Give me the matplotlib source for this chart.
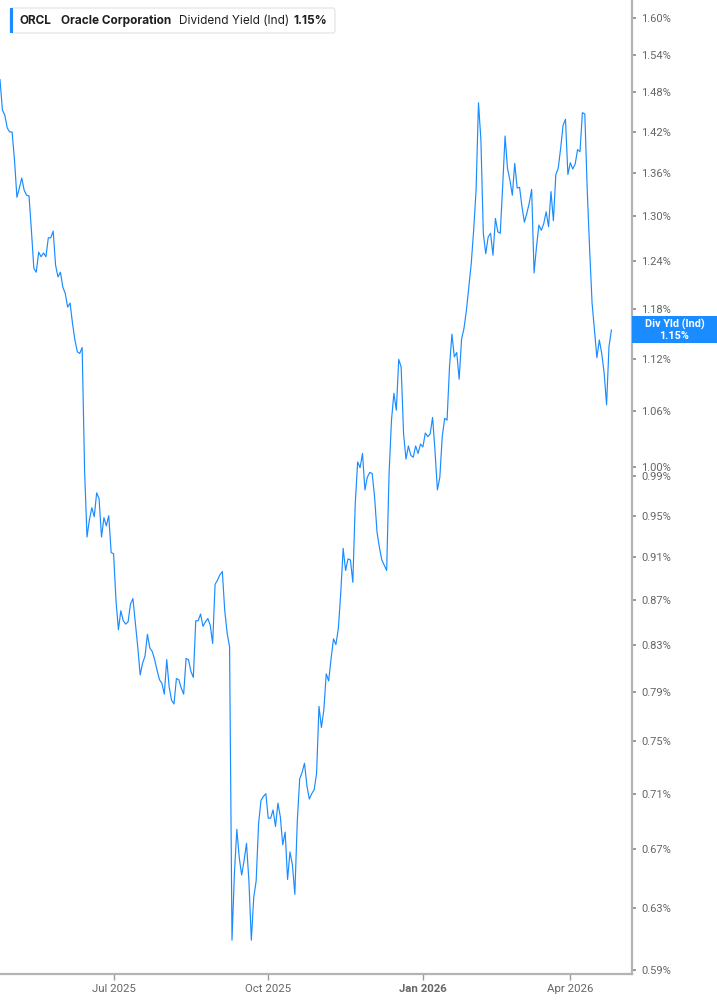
import matplotlib.pyplot as plt
import matplotlib.ticker as mticker
import numpy as np
import pandas as pd
from matplotlib.patches import Rectangle, FancyBboxPatch

# ORCL indicated dividend yield, one value per trading day (percent)
yield_pct = [
    1.500, 1.453, 1.445, 1.426, 1.420, 1.420, 1.379, 1.326, 1.339, 1.353,
    1.336, 1.329, 1.328, 1.281, 1.231, 1.226, 1.252, 1.246, 1.251, 1.246,
    1.271, 1.271, 1.280, 1.235, 1.220, 1.226, 1.207, 1.199, 1.182, 1.187,
    1.162, 1.142, 1.128, 1.126, 1.133, 0.996, 0.929, 0.946, 0.958, 0.949,
    0.973, 0.967, 0.929, 0.948, 0.940, 0.950, 0.914, 0.913, 0.869, 0.843,
    0.860, 0.851, 0.848, 0.850, 0.866, 0.871, 0.849, 0.828, 0.804, 0.814,
    0.820, 0.839, 0.827, 0.824, 0.817, 0.808, 0.800, 0.797, 0.788, 0.817,
    0.794, 0.783, 0.780, 0.801, 0.800, 0.793, 0.788, 0.818, 0.817, 0.807,
    0.802, 0.851, 0.851, 0.857, 0.846, 0.850, 0.853, 0.847, 0.831, 0.884,
    0.888, 0.893, 0.896, 0.860, 0.840, 0.828, 0.609, 0.653, 0.684, 0.664,
    0.652, 0.662, 0.674, 0.648, 0.609, 0.637, 0.648, 0.688, 0.705, 0.708,
    0.710, 0.692, 0.692, 0.698, 0.686, 0.703, 0.693, 0.673, 0.682, 0.649,
    0.668, 0.659, 0.639, 0.689, 0.721, 0.726, 0.733, 0.716, 0.706, 0.710,
    0.713, 0.725, 0.778, 0.761, 0.775, 0.805, 0.799, 0.818, 0.835, 0.830,
    0.844, 0.876, 0.918, 0.897, 0.908, 0.907, 0.886, 0.962, 1.005, 0.999,
    1.014, 0.976, 0.989, 0.994, 0.993, 0.969, 0.934, 0.919, 0.907, 0.902,
    0.897, 0.993, 1.050, 1.080, 1.061, 1.119, 1.110, 1.035, 1.008, 1.022,
    1.012, 1.010, 1.022, 1.014, 1.024, 1.021, 1.036, 1.032, 1.035, 1.053,
    1.017, 0.976, 0.989, 1.032, 1.052, 1.050, 1.110, 1.149, 1.122, 1.127,
    1.096, 1.143, 1.156, 1.178, 1.207, 1.237, 1.281, 1.336, 1.464, 1.408,
    1.277, 1.250, 1.272, 1.277, 1.248, 1.297, 1.279, 1.277, 1.341, 1.414,
    1.367, 1.350, 1.329, 1.374, 1.339, 1.340, 1.313, 1.292, 1.304, 1.318,
    1.337, 1.225, 1.259, 1.288, 1.281, 1.290, 1.306, 1.286, 1.334, 1.294,
    1.358, 1.367, 1.396, 1.430, 1.439, 1.358, 1.375, 1.366, 1.373, 1.394,
    1.391, 1.449, 1.447, 1.336, 1.255, 1.187, 1.154, 1.121, 1.142, 1.126,
    1.103, 1.067, 1.134, 1.154,
]
first_day = '2025-04-23'
market_holidays = ['2025-05-26', '2025-06-19', '2025-07-04', '2025-09-01',
                   '2025-11-27', '2025-12-25', '2026-01-01', '2026-01-19',
                   '2026-02-16', '2026-04-03']
tick_months = ['2025-07-01', '2025-10-01', '2026-01-01', '2026-04-01']
tick_names = ['Jul 2025', 'Oct 2025', 'Jan 2026', 'Apr 2026']
y_ticks = [0.59, 0.63, 0.67, 0.71, 0.75, 0.79, 0.83, 0.87, 0.91, 0.95, 0.99,
           1.00, 1.06, 1.12, 1.18, 1.24, 1.30, 1.36, 1.42, 1.48, 1.54, 1.60]

days = pd.bdate_range(first_day, periods=len(yield_pct), freq='C',
                      holidays=market_holidays)
idx = np.arange(len(yield_pct))
last = yield_pct[-1]

BLUE = '#1a8cff'
W, H = 717, 1005
fig = plt.figure(figsize=(W / 100, H / 100), dpi=100)
ax = fig.add_axes([0, 31 / H, 631.7 / W, 1 - 31 / H])

ax.plot(idx, yield_pct, color=BLUE, lw=0.85)

ax.set_yscale('log')
ax.set_ylim(0.5878, 1.6305)
ax.set_xlim(0, 261.4)
ax.yaxis.tick_right()
ax.set_yticks(y_ticks)
ax.yaxis.set_minor_locator(mticker.NullLocator())
ax.set_yticklabels([f'{v:.2f}%' for v in y_ticks], family='Roboto')

pos = days.searchsorted(pd.to_datetime(tick_months))
ax.set_xticks(pos, tick_names, family='Roboto')
jan = ax.get_xticklabels()[2]
jan.set_fontweight('bold'), jan.set_fontsize(10), jan.set_color('#555555')

for s in ['left', 'top']:
    ax.spines[s].set_visible(False)
for s in ['right', 'bottom']:
    ax.spines[s].set_color('#b3b3b3')
    ax.spines[s].set_linewidth(1.6)

ax.tick_params(axis='y', length=3, width=1.2, color='#888888',
               labelcolor='#666666', labelsize=8, pad=4)
ax.tick_params(axis='x', length=4, width=1, color='#999999',
               labelcolor='#666666', labelsize=8.2, pad=3)


def fx(px):
    return px / W


def fy(py):
    return 1 - py / H


# header box
fig.patches.append(FancyBboxPatch((fx(10), fy(33)), 325 / W, 25 / H,
                                  boxstyle='round,pad=0,rounding_size=0.003',
                                  transform=fig.transFigure, fc='white',
                                  ec='#e2e2e2', lw=0.8))
fig.patches.append(Rectangle((fx(10), fy(33)), 3 / W, 25 / H,
                             transform=fig.transFigure, fc=BLUE, ec='none'))
hdr = dict(fontsize=8.5, va='center', family='Inter', color='#1f1f1f')
fig.text(fx(20), fy(20.5), 'ORCL', fontweight='bold', **hdr)
fig.text(fx(61), fy(20.5), 'Oracle Corporation', fontweight='bold', **hdr)
fig.text(fx(179), fy(20.5), 'Dividend Yield (Ind)', **hdr)
fig.text(fx(294), fy(20.5), f'{last:.2f}%', fontweight='bold', **hdr)

# last value tag on the right axis
yc = ax.transData.transform((0, last))[1] / H
fig.patches.append(Rectangle((631.7 / W, yc - 13.5 / H), 1 - 631.7 / W, 27 / H,
                             transform=fig.transFigure, fc=BLUE, ec='none'))
tag = dict(fontsize=7.8, ha='center', va='center', color='white',
           fontweight='bold', family='Roboto')
fig.text(fx(674.5), yc + 6 / H, 'Div Yld (Ind)', **tag)
fig.text(fx(674.5), yc - 6.5 / H, f'{last:.2f}%', **tag)

fig.savefig('out.png', dpi=100)
